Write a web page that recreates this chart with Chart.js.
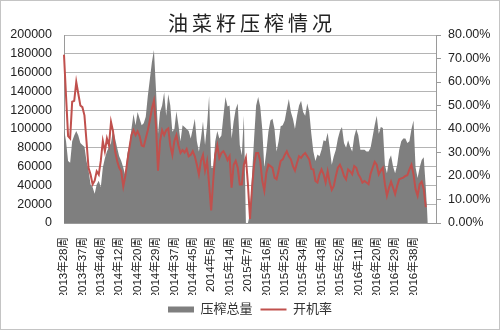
<!DOCTYPE html>
<html>
<head>
<meta charset="utf-8">
<script src="https://cdn.jsdelivr.net/npm/chart.js@4.4.1/dist/chart.umd.min.js"></script>
<style>
  body { margin: 0; background: #fff; }
  #wrap { width: 500px; height: 330px; position: relative; }
</style>
</head>
<body>
<div id="wrap"><canvas id="chart"></canvas></div>
<script>
// ==========================
// Data
// ==========================

const chartTitle = "油菜籽压榨情况";

// visible tick labels, one every 9 weeks
const weekTicks = [
    "2013年28周", "2013年37周", "2013年46周", "2014年12周", "2014年20周",
    "2014年29周", "2014年37周", "2014年45周", "2014年5周", "2015年14周",
    "2015年7周", "2015年16周", "2015年25周", "2015年34周", "2015年43周",
    "2015年52周", "2016年11周", "2016年20周", "2016年29周", "2016年38周"
];
const tickStep = 9;
const weekCount = 183;

// 压榨总量 (吨)
const crushVolume = [
    100000, 87000, 66000, 64000, 87000, 93000, 98000, 93000, 85000, 83000,
    81000, 66000, 56000, 41000, 38000, 31000, 41000, 45000, 38000, 59000,
    69000, 76000, 81000, 85000, 100000, 90000, 80000, 71000, 66000, 59000,
    50000, 74000, 83000, 100000, 116000, 104000, 118000, 111000, 104000, 106000,
    113000, 135000, 153000, 171000, 184000, 142000, 95000, 118000, 125000, 139000,
    114000, 137000, 125000, 97000, 100000, 119000, 104000, 87000, 104000, 102000,
    100000, 98000, 90000, 100000, 111000, 87000, 76000, 90000, 108000, 83000,
    104000, 135000, 59000, 59000, 87000, 98000, 90000, 93000, 114000, 134000,
    124000, 125000, 90000, 108000, 121000, 127000, 83000, 72000, 114000, 0,
    0, 10000, 51000, 90000, 125000, 134000, 124000, 100000, 59000, 76000,
    97000, 109000, 111000, 100000, 76000, 87000, 103000, 104000, 109000, 121000,
    132000, 118000, 111000, 100000, 114000, 125000, 130000, 118000, 114000, 127000,
    118000, 95000, 76000, 66000, 73000, 71000, 78000, 88000, 87000, 96000,
    80000, 62000, 71000, 78000, 90000, 98000, 102000, 85000, 80000, 88000,
    81000, 76000, 92000, 100000, 93000, 78000, 78000, 78000, 76000, 76000,
    80000, 92000, 104000, 114000, 95000, 102000, 101000, 62000, 53000, 67000,
    72000, 60000, 53000, 62000, 78000, 87000, 90000, 90000, 85000, 87000,
    100000, 109000, 59000, 48000, 59000, 67000, 70000, 38000, 0
];

// 开机率 (%)
const runRate = [
    71.6, 54, 37, 36, 51.6, 52, 60, 55, 50, 49.3,
    45.8, 34.9, 23.5, 20.6, 16.4, 18, 22, 20.6, 26.4, 34.9,
    30.5, 36, 33, 43, 39, 30.5, 26.4, 23.5, 22, 15.6,
    20, 26.4, 32, 37.4, 39.5, 37.4, 39, 37, 33, 32.6,
    36, 39.5, 43.7, 48.6, 52, 41.6, 22.3, 34.9, 39.5, 37.4,
    39.5, 40.2, 33, 29, 34.9, 37.4, 33, 29.8, 31, 30,
    31.5, 28.4, 29, 30.5, 28.4, 24.8, 20.6, 26.4, 29, 22.3,
    26.4, 16.4, 5.3, 18, 29, 33, 27.7, 29.8, 30.5, 29,
    26.8, 28.4, 15, 24.8, 26.4, 23.5, 16.4, 16.4, 24.8, 27.7,
    16.4, 1.7, 15, 24.8, 29.8, 29.8, 26.4, 18, 13.8, 21.4,
    24.8, 24.2, 23.5, 19.3, 18.6, 22.3, 26.4, 27.1, 29, 30.5,
    28.4, 27.1, 24.2, 22.3, 25.5, 28.4, 27.7, 29, 29.8, 28.4,
    27, 23, 22.8, 17.9, 17.2, 20.7, 22.8, 20.7, 17.2, 22,
    17.2, 14.1, 15.8, 20, 23.5, 24.8, 22.8, 20, 18.6, 22.8,
    22, 20.7, 24.2, 23.5, 20.7, 19.3, 17.2, 17.9, 17.2, 16.5,
    21, 23.5, 26, 24.8, 20.7, 22.3, 23.5, 16.5, 11.6, 15,
    17.6, 15, 12.3, 15.8, 18.6, 19, 19.3, 20, 20.3, 22.8,
    24.8, 20.7, 14.4, 11.6, 16.5, 17.6, 14.4, 6.7
];

const labels = Array.from({ length: weekCount }, (_, i) =>
    i % tickStep === 0 && weekTicks[i / tickStep] ? weekTicks[i / tickStep] : ""
);

const fontFamily = "'Liberation Sans', 'Noto Sans CJK SC', sans-serif";

// ==========================
// Plugins: title + outer border
// ==========================

const frame = {
    id: "frame",
    afterDraw(chart) {
        const ctx = chart.ctx;
        ctx.save();
        ctx.strokeStyle = "#c4c4c4";
        ctx.lineWidth = 1;
        ctx.strokeRect(0.5, 0.5, chart.width - 1, chart.height - 1);

        ctx.fillStyle = "#222";
        ctx.font = "20px 'Noto Sans CJK SC', sans-serif";
        ctx.letterSpacing = "4px";
        ctx.textAlign = "center";
        ctx.textBaseline = "middle";
        ctx.fillText(chartTitle, chart.width / 2 + 2, 23);
        ctx.restore();
    }
};

// ==========================
// Chart
// ==========================

new Chart(document.getElementById("chart"), {
    type: "line",
    data: {
        labels: labels,
        datasets: [
            {
                label: "压榨总量",
                data: crushVolume,
                yAxisID: "y",
                fill: "origin",
                backgroundColor: "#7f7f7f",
                borderColor: "#7f7f7f",
                borderWidth: 0,
                pointRadius: 0,
                pointStyle: "rect",
                tension: 0,
                order: 1
            },
            {
                label: "开机率",
                data: runRate,
                yAxisID: "y1",
                fill: false,
                borderColor: "#c0504d",
                backgroundColor: "#c0504d",
                borderWidth: 2,
                pointRadius: 0,
                pointStyle: "line",
                tension: 0,
                order: 0
            }
        ]
    },
    options: {
        responsive: true,
        maintainAspectRatio: false,
        animation: false,
        layout: { padding: { top: 35, left: 0, right: 0, bottom: 4 } },
        plugins: {
            tooltip: { enabled: false },
            title: { display: false },
            legend: {
                position: "bottom",
                labels: {
                    usePointStyle: true,
                    pointStyleWidth: 26,
                    boxHeight: 6,
                    padding: 8,
                    color: "#333",
                    font: { size: 13, family: fontFamily },
                    sort: (a, b) => a.datasetIndex - b.datasetIndex
                }
            }
        },
        scales: {
            x: {
                type: "category",
                offset: false,
                grid: { display: false },
                border: { display: true, color: "#9a9a9a" },
                ticks: {
                    autoSkip: false,
                    minRotation: 90,
                    maxRotation: 90,
                    padding: 6,
                    color: "#222",
                    font: { size: 11.5, family: fontFamily }
                },
                afterFit(scale) { scale.height = 72; }
            },
            y: {
                position: "left",
                min: 0,
                max: 200000,
                ticks: {
                    stepSize: 20000,
                    padding: 12,
                    color: "#222",
                    font: { size: 12.5, family: fontFamily },
                    callback: v => String(v)
                },
                grid: { color: "#b4b4b4", drawTicks: false },
                border: { display: true, color: "#9a9a9a" },
                afterFit(scale) { scale.width = 64; }
            },
            y1: {
                position: "right",
                min: 0,
                max: 80,
                ticks: {
                    stepSize: 10,
                    padding: 7,
                    color: "#222",
                    font: { size: 12.5, family: fontFamily },
                    callback: v => v.toFixed(2) + "%"
                },
                grid: { drawOnChartArea: false, drawTicks: true, tickLength: 5, color: "#9a9a9a" },
                border: { display: true, color: "#9a9a9a" },
                afterFit(scale) { scale.width = 64; }
            }
        }
    },
    plugins: [frame]
});
</script>
</body>
</html>
